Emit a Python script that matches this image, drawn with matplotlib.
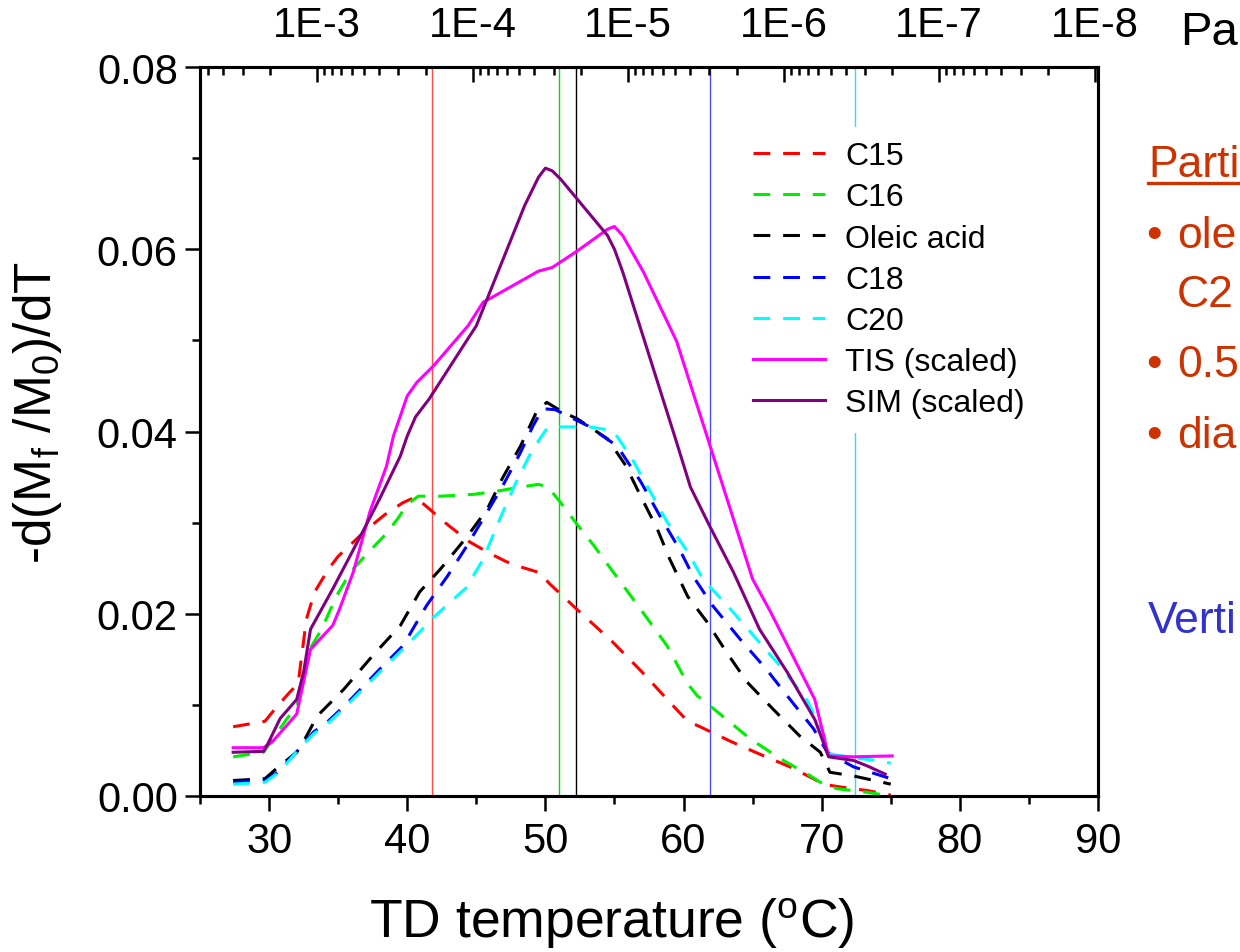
import numpy as np
import matplotlib
matplotlib.use('Agg')
import matplotlib.pyplot as plt
from matplotlib.ticker import FixedLocator, MultipleLocator, FuncFormatter, NullFormatter
from matplotlib.lines import Line2D

plt.rcParams['font.family'] = ['Liberation Sans', 'DejaVu Sans']
plt.rcParams['mathtext.fontset'] = 'custom'
plt.rcParams['mathtext.rm'] = 'Liberation Sans'
plt.rcParams['mathtext.it'] = 'Liberation Sans'

# curves: TD temperature (oC) and -d(Mf/M0)/dT
t_c15 = [27.4, 29.7, 30.4, 31.5, 32.1, 32.7, 33.3, 34.3, 35.0, 37.1, 38.4, 39.7, 40.6, 41.6, 42.9,
         44.5, 46.0, 47.2, 48.3, 49.6, 50.3, 52.2, 54.8, 57.0, 59.0, 60.3, 61.2, 63.4, 65.5, 67.7,
         69.4, 70.1, 71.3, 73.3, 75.0]
y_c15 = [0.0076, 0.0082, 0.0095, 0.0114, 0.0123, 0.0194, 0.0224, 0.0249, 0.0263, 0.0293, 0.0309,
         0.0322, 0.0328, 0.0315, 0.0298, 0.0279, 0.0266, 0.0257, 0.0251, 0.0245, 0.0233, 0.0206,
         0.0170, 0.0136, 0.0103, 0.0082, 0.0076, 0.0060, 0.0046, 0.0032, 0.0019, 0.0013, 0.0010,
         0.0006, 0.0001]

t_c16 = [27.4, 29.6, 30.3, 31.3, 32.0, 32.9, 33.8, 34.9, 35.9, 37.1, 38.3, 39.3, 40.0, 40.8, 42.4,
         44.8, 46.7, 48.2, 49.5, 50.2, 51.1, 52.4, 53.5, 54.8, 56.6, 58.8, 60.3, 61.0, 62.4, 64.8,
         67.0, 69.2, 69.9, 71.1, 73.3, 75.0]
y_c16 = [0.0043, 0.0048, 0.0063, 0.0085, 0.0098, 0.0160, 0.0183, 0.0220, 0.0246, 0.0266, 0.0285,
         0.0304, 0.0320, 0.0329, 0.0329, 0.0331, 0.0335, 0.0339, 0.0342, 0.0339, 0.0322, 0.0296,
         0.0275, 0.0248, 0.0211, 0.0165, 0.0123, 0.0110, 0.0093, 0.0063, 0.0041, 0.0022, 0.0015,
         0.0008, 0.0004, 0.0000]

t_ole = [27.4, 29.7, 30.6, 32.0, 32.5, 33.5, 35.4, 37.5, 39.5, 40.9, 42.4, 44.3, 45.8, 46.9, 48.2,
         49.4, 50.1, 51.3, 52.3, 54.5, 55.8, 56.9, 58.1, 59.0, 60.3, 61.7, 63.1, 64.6, 66.5, 68.4,
         69.9, 70.6, 72.3, 75.0]
y_ole = [0.0017, 0.0019, 0.0031, 0.0048, 0.0060, 0.0088, 0.0117, 0.0154, 0.0187, 0.0224, 0.0249,
         0.0284, 0.0315, 0.0349, 0.0384, 0.0423, 0.0432, 0.0421, 0.0414, 0.0392, 0.0363, 0.0329,
         0.0293, 0.0260, 0.0219, 0.0191, 0.0158, 0.0125, 0.0095, 0.0066, 0.0048, 0.0026, 0.0022,
         0.0013]

t_c18 = [27.4, 29.7, 30.6, 32.2, 33.2, 34.2, 35.6, 38.0, 39.7, 41.4, 42.9, 44.3, 45.8, 46.9, 48.2,
         49.1, 49.8, 50.7, 53.1, 55.2, 56.9, 58.3, 59.7, 60.7, 62.1, 64.1, 66.0, 67.5, 69.4, 70.4,
         72.3, 75.0]
y_c18 = [0.0015, 0.0017, 0.0026, 0.0052, 0.0070, 0.0081, 0.0101, 0.0139, 0.0165, 0.0209, 0.0241,
         0.0274, 0.0312, 0.0340, 0.0377, 0.0406, 0.0425, 0.0424, 0.0406, 0.0384, 0.0345, 0.0307,
         0.0271, 0.0241, 0.0209, 0.0172, 0.0139, 0.0110, 0.0074, 0.0048, 0.0032, 0.0019]

t_c20 = [27.4, 29.7, 30.7, 32.2, 33.2, 34.2, 35.6, 38.0, 40.2, 41.9, 44.3, 45.5, 46.7, 47.9, 49.1,
         50.1, 51.1, 53.2, 54.9, 56.2, 58.8, 60.3, 61.4, 63.4, 65.3, 67.2, 68.9, 70.1, 70.6, 72.8,
         74.0, 75.0]
y_c20 = [0.0013, 0.0015, 0.0026, 0.0052, 0.0068, 0.0079, 0.0099, 0.0136, 0.0169, 0.0196, 0.0229,
         0.0260, 0.0304, 0.0345, 0.0381, 0.0403, 0.0405, 0.0405, 0.0401, 0.0372, 0.0301, 0.0268,
         0.0238, 0.0205, 0.0172, 0.0139, 0.0106, 0.0070, 0.0046, 0.0041, 0.0039, 0.0036]

t_tis = [27.4, 29.6, 30.2, 31.2, 32.0, 33.0, 34.6, 35.1, 36.1, 37.3, 38.5, 39.0, 40.0, 40.7, 41.9,
         44.4, 45.5, 46.0, 49.5, 50.5, 51.1, 52.3, 54.5, 55.0, 55.6, 57.1, 59.5, 61.8, 65.0, 66.3,
         69.5, 70.5, 72.3, 75.1]
y_tis = [0.0053, 0.0053, 0.0059, 0.0076, 0.0090, 0.0161, 0.0187, 0.0205, 0.0246, 0.0312, 0.0362,
         0.0395, 0.0439, 0.0454, 0.0472, 0.0516, 0.0542, 0.0546, 0.0576, 0.0580, 0.0586, 0.0598,
         0.0622, 0.0625, 0.0615, 0.0575, 0.0499, 0.0390, 0.0238, 0.0202, 0.0106, 0.0044, 0.0043,
         0.0044]

t_sim = [27.4, 29.6, 29.9, 30.8, 32.0, 32.5, 33.0, 34.6, 36.4, 38.0, 39.5, 40.0, 40.6, 41.6, 44.4,
         45.0, 48.5, 49.5, 50.0, 50.5, 51.1, 54.5, 55.0, 55.6, 58.5, 59.5, 60.5, 61.9, 63.6, 65.5,
         67.5, 69.5, 70.5, 72.3, 73.3, 74.6]
y_sim = [0.0048, 0.0049, 0.0057, 0.0085, 0.0106, 0.0136, 0.0183, 0.0227, 0.0279, 0.0326, 0.0373,
         0.0395, 0.0416, 0.0436, 0.0502, 0.0516, 0.0648, 0.0679, 0.0689, 0.0686, 0.0677, 0.0615,
         0.0600, 0.0575, 0.0436, 0.0388, 0.0339, 0.0296, 0.0246, 0.0183, 0.0136, 0.0084, 0.0043,
         0.0039, 0.0033, 0.0024]

# vertical marker lines (oC)
vline_t = [41.8, 51.0, 52.2, 61.9, 72.4]
vline_colors = ['#ff4a4a', '#00dd00', '#000000', '#4a4aff', '#30e0e0']

# top axis: vapour pressure decades
t_at_1e3 = 33.47      # oC where 1E-3 Pa sits
t_per_decade = 11.26  # oC per decade of pressure

def t2p(t):
    return 10.0 ** (-3.0 - (np.asarray(t, dtype=float) - t_at_1e3) / t_per_decade)

fig = plt.figure(figsize=(12.4, 9.53), dpi=100)
ax = fig.add_axes([200 / 1240, 156 / 953, 898 / 1240, 729 / 953])

for t, c in zip(vline_t, vline_colors):
    ax.axvline(t, color=c, lw=1.0, zorder=1)

dash = (0, (5.5, 4.2))
series = [
    (t_c15, y_c15, 'red', dash, 'C15'),
    (t_c16, y_c16, '#00ee00', dash, 'C16'),
    (t_ole, y_ole, 'black', dash, 'Oleic acid'),
    (t_c18, y_c18, 'blue', dash, 'C18'),
    (t_c20, y_c20, 'cyan', dash, 'C20'),
    (t_tis, y_tis, 'magenta', '-', 'TIS (scaled)'),
    (t_sim, y_sim, 'purple', '-', 'SIM (scaled)'),
]
for t, y, c, ls, lab in series:
    ax.plot(t, y, color=c, ls=ls, lw=2.2, label=lab, zorder=3)

ax.set_xlim(25, 90)
ax.set_ylim(0, 0.08)
ax.xaxis.set_major_locator(MultipleLocator(10))
ax.xaxis.set_minor_locator(MultipleLocator(5))
ax.yaxis.set_major_locator(MultipleLocator(0.02))
ax.yaxis.set_minor_locator(MultipleLocator(0.01))
ax.yaxis.set_major_formatter(FuncFormatter(lambda v, p: '%.2f' % v))
ax.tick_params(axis='both', which='major', direction='out', length=11, width=1.8,
               labelsize=30, pad=5)
ax.tick_params(axis='both', which='minor', direction='out', length=6, width=1.8)
ax.tick_params(axis='x', which='major', pad=7)
for s in ax.spines.values():
    s.set_linewidth(2.2)

ax.set_xlabel('TD temperature ($^\\mathregular{o}$C)', fontsize=38.5)
ax.xaxis.set_label_coords((612 - 200) / 898, -0.136)
ax.set_ylabel('-d(M$_\\mathregular{f}$ /M$_\\mathregular{0}$)/dT', fontsize=37)
ax.yaxis.set_label_coords(-0.152, 0.527)

# top pressure axis
ax2 = ax.twiny()
ax2.set_xscale('log')
ax2.set_xlim(t2p(25), t2p(90))
major_p = [10.0 ** -k for k in range(3, 9)]
minor_p = [m * 10.0 ** -k for k in range(2, 10) for m in range(2, 10)]
ax2.xaxis.set_major_locator(FixedLocator(major_p))
ax2.xaxis.set_minor_locator(FixedLocator(minor_p))
ax2.xaxis.set_major_formatter(FuncFormatter(lambda v, p: '1E%d' % round(np.log10(v))))
ax2.xaxis.set_minor_formatter(NullFormatter())
ax2.tick_params(axis='x', which='major', direction='in', length=11, width=1.8,
                labelsize=30, pad=16)
ax2.tick_params(axis='x', which='minor', direction='in', length=6, width=1.8)
# small inward ticks on the right spine
ax2.tick_params(axis='y', which='both', right=True, left=False, labelright=False,
                labelleft=False, direction='in', length=4, width=1.8)
for s in ax2.spines.values():
    s.set_linewidth(2.2)
fig.text(1180 / 1240, 1 - 45 / 953, 'Pa', fontsize=34, ha='left', va='baseline')

leg = ax.legend(loc='upper left', bbox_to_anchor=(0.60, 0.918), fontsize=23,
                frameon=True, edgecolor='none', facecolor='white', framealpha=1,
                fancybox=False, handlelength=2.25, handletextpad=0.63, labelspacing=0.35,
                borderpad=0.45, borderaxespad=0)
leg.set_zorder(5)

# side notes, cut off at the right edge like the original slide
orange = '#cc3300'
fig.text(1148 / 1240, 1 - 177 / 953, 'Parti', fontsize=32, color=orange, va='baseline')
fig.add_artist(Line2D([1148 / 1240, 1.0], [1 - 184 / 953] * 2, color=orange, lw=2.4))
fig.text(1146 / 1240, 1 - 248 / 953, '\u2022', fontsize=32, color=orange, va='baseline')
fig.text(1177 / 1240, 1 - 248 / 953, 'ole', fontsize=32, color=orange, va='baseline')
fig.text(1177 / 1240, 1 - 307 / 953, 'C2', fontsize=32, color=orange, va='baseline')
fig.text(1146 / 1240, 1 - 377 / 953, '\u2022', fontsize=32, color=orange, va='baseline')
fig.text(1177 / 1240, 1 - 377 / 953, '0.5', fontsize=32, color=orange, va='baseline')
fig.text(1146 / 1240, 1 - 448 / 953, '\u2022', fontsize=32, color=orange, va='baseline')
fig.text(1177 / 1240, 1 - 448 / 953, 'dia', fontsize=32, color=orange, va='baseline')
fig.text(1148 / 1240, 1 - 633 / 953, 'Verti', fontsize=32, color='#3333cc', va='baseline')

plt.savefig('out.png', dpi=100)
